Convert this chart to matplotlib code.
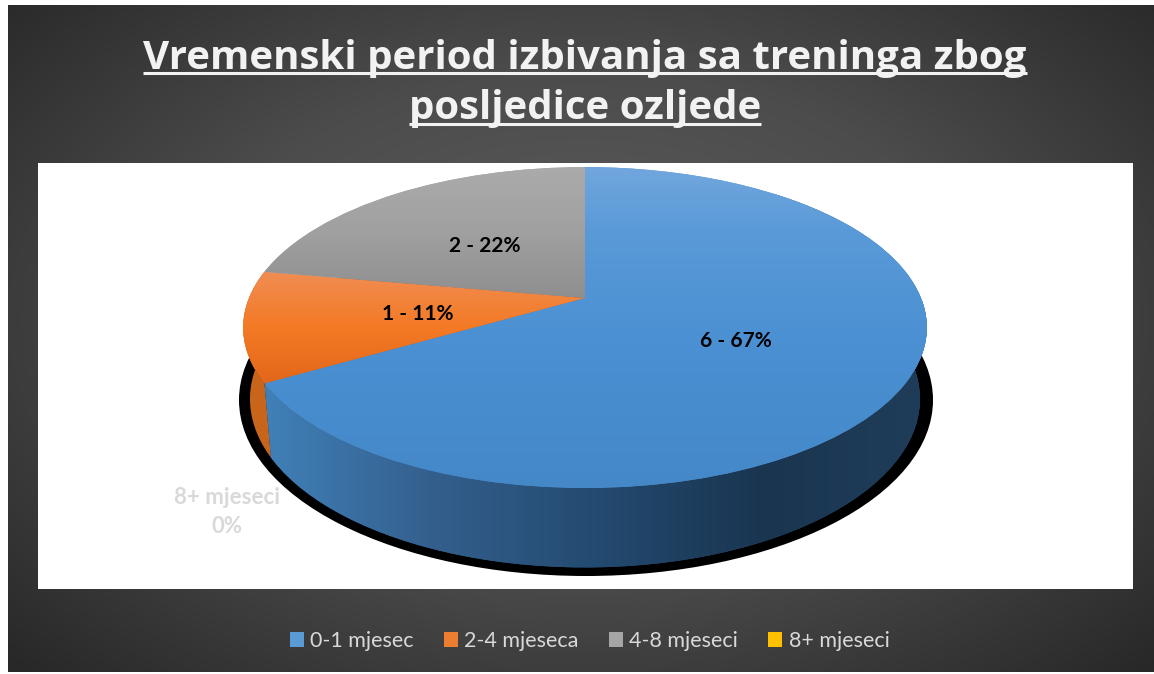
import numpy as np
import matplotlib
matplotlib.use("Agg")
import matplotlib.pyplot as plt
import matplotlib.transforms as mtransforms
from matplotlib.colors import LinearSegmentedColormap
from matplotlib.patches import Ellipse, Polygon, Rectangle, Patch

# data
categorias = ['0-1 mjesec', '2-4 mjeseca', '4-8 mjeseci', '8+ mjeseci']
valores = [6, 1, 2, 0]
colores = ['#5b9bd5', '#ed7d31', '#a5a5a5', '#ffc000']
titulo = ['Vremenski period izbivanja sa treninga zbog', 'posljedice ozljede']

W, H = 1154, 674

# pie geometry in pixels
CX, CY = 585, 298
A, B, K = 336, 155, 0.184


class Perspectiva(mtransforms.Transform):
    # unit circle of the pie -> pixels, tilted like the 3D pie
    input_dims = 2
    output_dims = 2

    def transform_non_affine(self, xy):
        xy = np.asarray(xy, dtype=float)
        w = 1 + K * xy[:, 1]
        return np.column_stack([CX + A * xy[:, 0] / w, CY - B * xy[:, 1] / w])


def borde(t1, t2):
    # top and bottom rim of the wall between two angles
    t = np.radians(np.linspace(t1, t2, 80))
    arriba = Perspectiva().transform_non_affine(np.column_stack([np.cos(t), np.sin(t)]))
    abajo = np.column_stack([CX + 0.98 * (arriba[:, 0] - CX), CY + 70 + 1.05 * (arriba[:, 1] - CY)])
    return np.vstack([arriba, abajo[::-1]])


fig = plt.figure(figsize=(W / 100, H / 100), dpi=100, facecolor='white')
ax = fig.add_axes([0, 0, 1, 1])

# pie first, then fix the limits to pixels
wedges, _ = ax.pie(valores, colors=colores, startangle=90, counterclock=False, radius=1,
                   wedgeprops={'linewidth': 0})
ax.set_aspect('auto')

# background panel
yy, xx = np.mgrid[5:672:200j, 8:1154:300j]
r = np.sqrt(((xx - 585) / 640) ** 2 + ((yy - 320) / 400) ** 2) / 1.25
fondo = LinearSegmentedColormap.from_list('fondo', ['#5e5e5e', '#4c4c4c', '#282828'])
ax.imshow(np.clip(r, 0, 1), extent=(8, 1154, 672, 5), cmap=fondo, vmin=0, vmax=1,
          aspect='auto', zorder=0, interpolation='bilinear')
ax.add_patch(Rectangle((38, 163), 1095, 426, facecolor='white', edgecolor='none', zorder=1))

# shadow under the pie
ax.add_patch(Ellipse((586, 400), 694, 352, facecolor='black', edgecolor='none', zorder=2))

# side walls
grad_x = np.linspace(0, 1, 256).reshape(1, -1)
muro_azul = LinearSegmentedColormap.from_list('muro_azul', ['#4080b8', '#345f8d', '#234a70', '#1a3550', '#1f3d5a'])

t_azul = wedges[0]
muro = Polygon(borde(t_azul.theta1, t_azul.theta1 + 200), facecolor='#2a5580', edgecolor='none', zorder=3)
ax.add_patch(muro)
im = ax.imshow(grad_x, extent=(265, 930, 600, 300), cmap=muro_azul, aspect='auto', zorder=3.1)
im.set_clip_path(muro)

t_naranja = wedges[1]
muro2 = Polygon(borde(t_naranja.theta1, t_naranja.theta2), facecolor='#c8651b', edgecolor='none', zorder=3)
ax.add_patch(muro2)

# top faces
paradas = [[(0, '#72a7dd'), (0.2, '#5a9ad8'), (0.55, '#4a90d2'), (1, '#4488c8')],
           [(0, '#f08e55'), (0.5, '#f47a25'), (1, '#e2661a')],
           [(0, '#ababab'), (0.5, '#a0a0a0'), (1, '#8e8e8e')]]
grad_y = np.linspace(0, 1, 256).reshape(-1, 1)
for w, p in zip(wedges, paradas + [[]]):
    w.set_transform(Perspectiva() + ax.transData)
    w.set_zorder(4)
    if p:
        caja = w.get_path().transformed(Perspectiva()).get_extents()
        cm = LinearSegmentedColormap.from_list('c', p)
        im = ax.imshow(grad_y, extent=(caja.x0 - 2, caja.x1 + 2, caja.y1 + 2, caja.y0 - 2), cmap=cm,
                       aspect='auto', zorder=4.1)
        im.set_clip_path(w)

ax.set_xlim(0, W)
ax.set_ylim(H, 0)
ax.axis('off')

# data labels
total = sum(valores)
pos_etiquetas = [(736, 341), (418, 314), (485, 246)]
for v, (x, y) in zip(valores[:3], pos_etiquetas):
    ax.text(x, y, f'{v} - {v / total:.0%}', ha='center', va='center', color='black',
            family='Lato', fontweight='bold', fontsize=15, zorder=6)
ax.text(227, 512, f'{categorias[3]}\n{valores[3] / total:.0%}', ha='center', va='center',
        color='#d9d9d9', family='Lato', fontweight='bold', fontsize=16, linespacing=1.45, zorder=6)

# title, matplotlib has no underline so it is drawn by hand
renderer = fig.canvas.get_renderer()
for linea, y, y_sub in zip(titulo, [58, 108], [73, 124]):
    t = ax.text(585, y, linea, ha='center', va='center', color='#f2f2f2', family='Open Sans',
                fontweight='bold', fontsize=29, zorder=6)
    caja = t.get_window_extent(renderer)
    ax.plot([caja.x0, caja.x1], [y_sub, y_sub], color='#f2f2f2', linewidth=2.2, solid_capstyle='butt', zorder=6)
ax.set_xlim(0, W)
ax.set_ylim(H, 0)

# legend
manijas = [Patch(facecolor=c, edgecolor='none') for c in colores]
ax.legend(manijas, categorias, ncols=4, loc='center', bbox_to_anchor=(589.5, 641), bbox_transform=ax.transData,
          frameon=False, labelcolor='#d9d9d9', prop={'family': 'Lato', 'size': 15.5},
          handlelength=0.65, handleheight=0.65, handletextpad=0.3, columnspacing=1.4)

fig.savefig('out.png', dpi=100, facecolor='white')
